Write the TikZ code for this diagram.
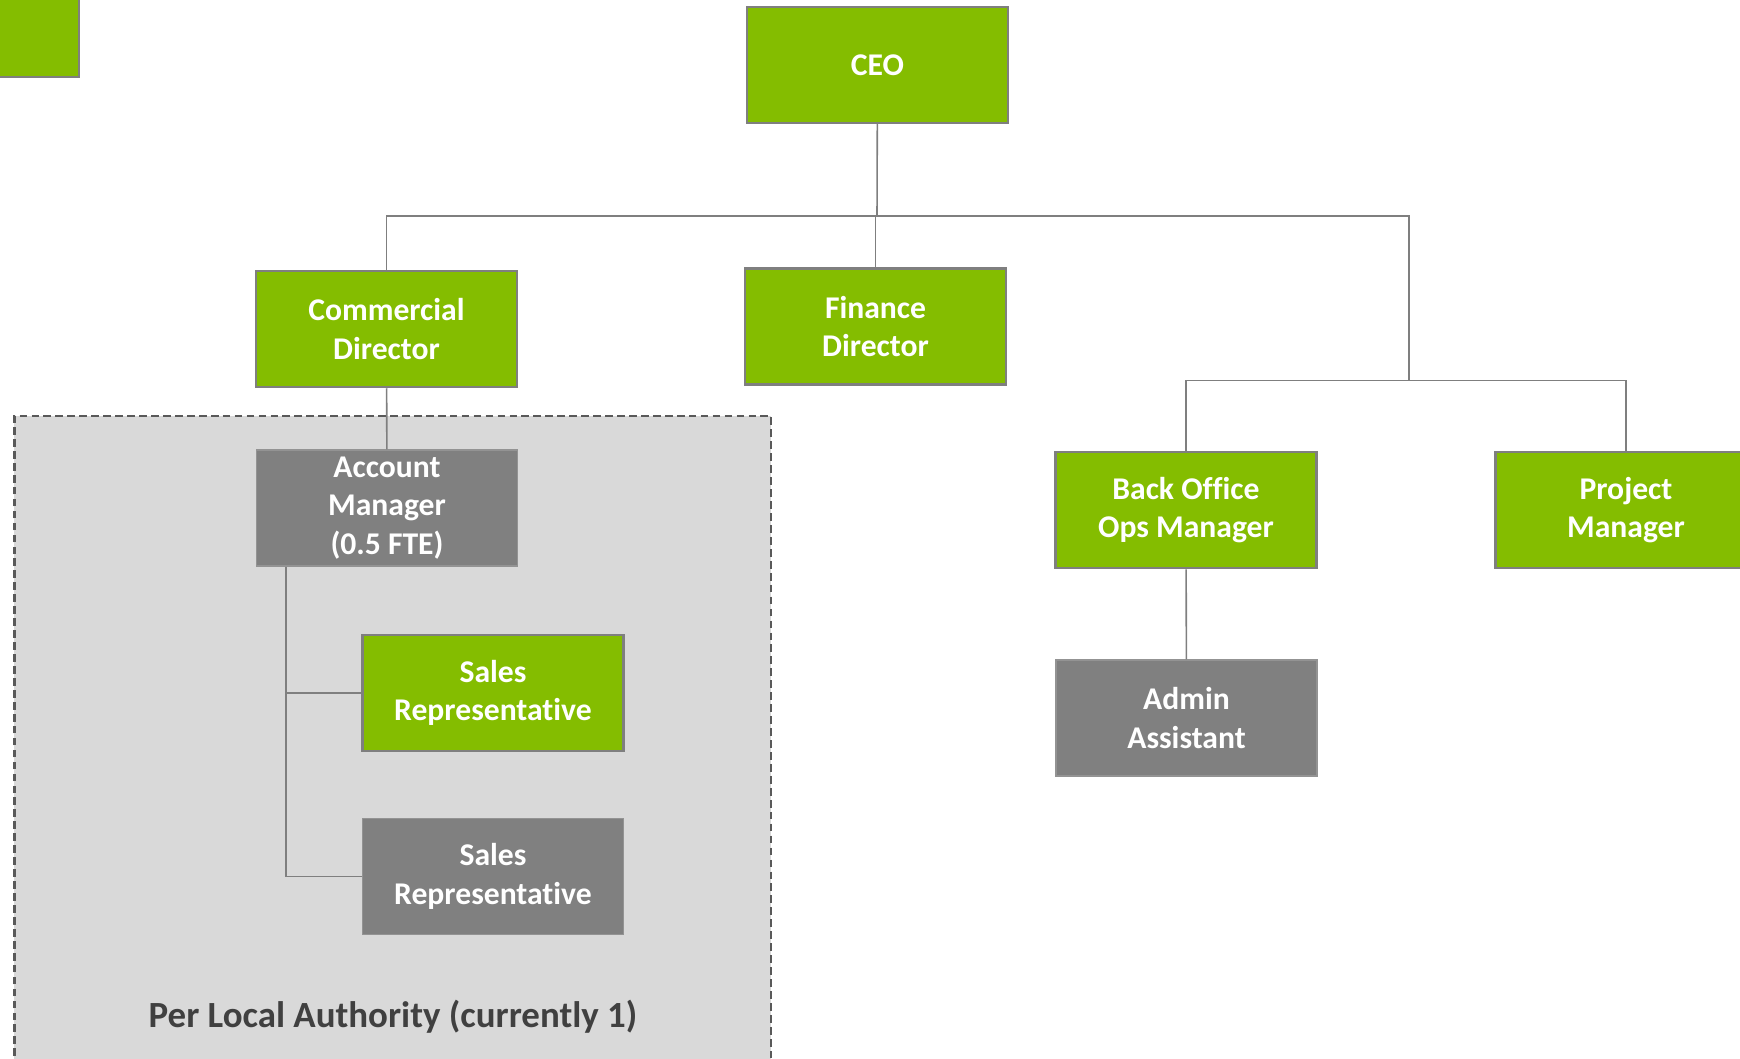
\documentclass[tikz,border=0pt]{standalone}
\usepackage{fontspec}
\setmainfont[Ligatures=NoCommon]{Carlito}
\definecolor{orggreen}{RGB}{132,189,0}
\definecolor{orggray}{RGB}{128,128,128}
\definecolor{linegray}{RGB}{127,127,127}
\definecolor{zonegray}{RGB}{217,217,217}
\definecolor{zoneedge}{RGB}{89,89,89}
\definecolor{labelgray}{RGB}{64,64,64}
\begin{document}
\begin{tikzpicture}[
    every node/.style={minimum width=2.61cm,minimum height=1.16cm,inner sep=0mm,align=center,
      font=\fontsize{9}{11}\selectfont\bfseries,text=white},
    greenbox/.style={fill=orggreen,draw=linegray,line width=.7pt},
    graybox/.style={fill=orggray,draw=orggray!85!white,line width=.3pt},
    link/.style={draw=linegray,line width=.45pt}]
  \useasboundingbox (0,0) rectangle (17.4,-10.58);
  % shaded zone
  \draw [fill=zonegray,draw=zoneedge,line width=.65pt,dash pattern=on 2.2pt off 1.2pt] (0.144,-10.8) |- (7.71,-4.16) -- (7.71,-10.8);
  \node [text=labelgray,font=\fontsize{10.5}{13}\selectfont\bfseries,minimum width=0cm,minimum height=0cm] (zone) at (3.93,-10.17) {Per Local Authority (currently 1)};
  % boxes
  \node [greenbox] (corner) at (-0.515,-0.19) {};
  \node [greenbox] (ceo) at (8.775,-0.65) {CEO};
  \node [greenbox] (commercial) at (3.865,-3.29) {Commercial\\Director};
  \node [greenbox] (finance) at (8.755,-3.265) {Finance\\Director};
  \node [greenbox] (backoffice) at (11.86,-5.1) {Back Office\\Ops Manager};
  \node [greenbox] (project) at (16.26,-5.1) {Project\\Manager};
  \node [graybox] (admin) at (11.865,-7.18) {Admin\\Assistant};
  \node [graybox] (account) at (3.87,-5.08) {Account\\Manager\\(0.5 FTE)};
  \node [greenbox] (salesa) at (4.93,-6.93) {Sales\\Representative};
  \node [graybox] (salesb) at (4.93,-8.765) {Sales\\Representative};
  \coordinate (ceobar) at (8.77,-2.16);
  \coordinate (opsbar) at (14.09,-3.806);
  \coordinate (amleg) at (2.86,-5.67);
  % links
  \draw [link] (ceo) -- (ceobar);
  \draw [link] (ceobar) -| (commercial);
  \draw [link] (ceobar) -| (opsbar);
  \draw [link] (finance) -- (finance |- ceobar);
  \draw [link] (opsbar) -| (backoffice);
  \draw [link] (opsbar) -| (project);
  \draw [link] (backoffice) -- (admin);
  \draw [link] (commercial) -- (account);
  \draw [link] (amleg) |- (salesa);
  \draw [link] (amleg) |- (salesb);
\end{tikzpicture}
\end{document}
